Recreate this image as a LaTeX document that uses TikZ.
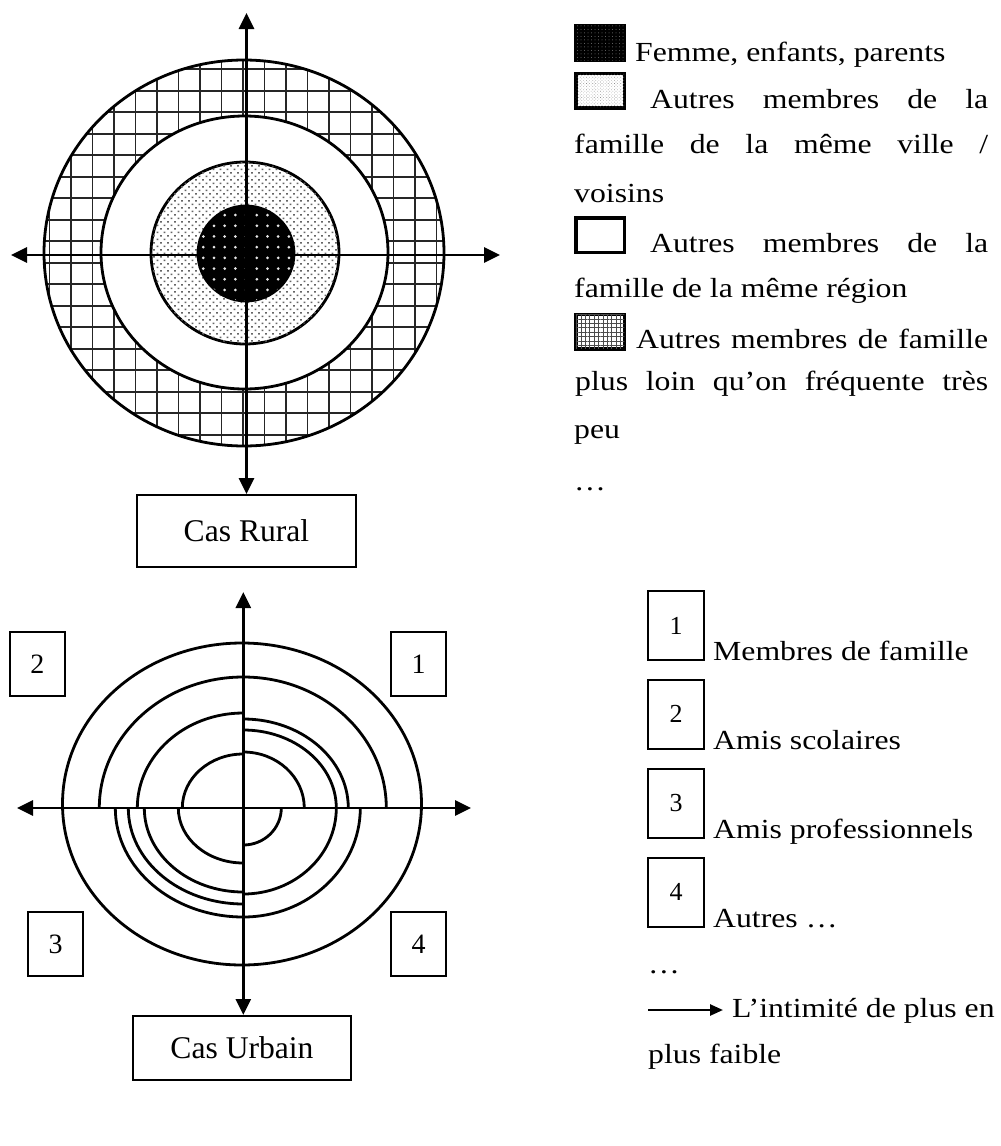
\documentclass[tikz,border=0pt]{standalone}
\usepackage{fontspec}
\setmainfont{Liberation Serif}
\newfontfamily\legfont{Liberation Serif}[FakeStretch=1.15]
\usetikzlibrary{arrows.meta,patterns.meta}
\tikzset{
  axisline/.style={line width=2.8pt,{Triangle[length=16pt,width=15pt]}-{Triangle[length=16pt,width=15pt]}},
  ring/.style={line width=2.8pt},
  gridline/.style={line width=1.8pt,black!85},
  casbox/.style={draw,line width=2pt,inner sep=0pt,font=\fontsize{31.6}{36}\selectfont},
  qbox/.style={draw,line width=2pt,minimum width=55pt,minimum height=64pt,inner sep=0pt,font=\fontsize{28}{30}\selectfont},
  leg/.style={anchor=base west,inner sep=0pt,font=\legfont\fontsize{27.6}{30}\selectfont},
  lbox/.style={draw,line width=2pt,minimum width=56pt,minimum height=69pt,inner sep=0pt,font=\fontsize{26}{28}\selectfont},
  icon/.style={draw,line width=3.5pt,minimum width=48.5pt,minimum height=34.5pt,inner sep=0pt},
  qarc/.style={line width=2.8pt},
}
\begin{document}
\begin{tikzpicture}[x=1pt,y=1pt]
\useasboundingbox (0,0) rectangle (1001,-1146);

% ---------------- Cas Rural ----------------
\begin{scope}
  \fill[white] (244,-253) ellipse [x radius=200, y radius=193];
  \clip (244,-253) ellipse [x radius=200, y radius=193];
  \foreach \i in {0,...,18} \draw[gridline] ({49.5+21.5*\i},-40) -- ({49.5+21.5*\i},-470);
  \foreach \i in {0,...,17} \draw[gridline] (30,{-69.3-21.5*\i}) -- (470,{-69.3-21.5*\i});
\end{scope}
\draw[ring] (244,-253) ellipse [x radius=200, y radius=193];
\filldraw[ring,fill=white] (244.5,-252.5) ellipse [x radius=143.5, y radius=136.5];
\filldraw[ring,fill=white,postaction={pattern={Dots[distance=4.95pt,radius=1.1pt,angle=45]},pattern color=black!60}]
  (245,-253) ellipse [x radius=94, y radius=91];
\filldraw[ring,fill=black,postaction={pattern={Dots[distance=10.7pt,radius=1.5pt]},pattern color=black!10}]
  (246,-253.5) ellipse [x radius=48, y radius=47.5];

\node[casbox,minimum width=219pt,minimum height=72pt] (rural) at (246.5,-531) {Cas Rural};
\coordinate (rT) at (246.5,-13);
\coordinate (rL) at (11,-255);
\coordinate (rR) at (500,-255);
\draw[axisline] (rT) -- (rT |- rural.north);
\draw[axisline] (rL) -- (rR);

% ---------------- Cas Urbain ----------------
\coordinate (uO) at (243.3,-808);
\draw[qarc] (242,-804) ellipse [x radius=179.5, y radius=161];
% quadrant 2 (upper left)
\foreach \rx/\ry in {144/131,106/95,61/54}
  \draw[qarc] ([shift={(0,\ry)}]uO) arc [start angle=90,end angle=180,x radius=\rx,y radius=\ry];
% quadrant 1 (upper right)
\foreach \rx/\ry in {143/131,105/89,93/78,61/56}
  \draw[qarc] ([shift={(\rx,0)}]uO) arc [start angle=0,end angle=90,x radius=\rx,y radius=\ry];
% quadrant 3 (lower left)
\foreach \rx/\ry in {128/109,115/96,99/84,65/55}
  \draw[qarc] ([shift={(-\rx,0)}]uO) arc [start angle=180,end angle=270,x radius=\rx,y radius=\ry];
% quadrant 4 (lower right)
\foreach \rx/\ry in {117/109,93/86,38/37}
  \draw[qarc] ([shift={(0,-\ry)}]uO) arc [start angle=270,end angle=360,x radius=\rx,y radius=\ry];

\node[casbox,minimum width=218pt,minimum height=64pt] (urbain) at (242,-1048) {Cas Urbain};
\coordinate (uT) at (243.3,-592);
\coordinate (uL) at (17,-808);
\coordinate (uR) at (471,-808);
\draw[axisline] (uT) -- (uT |- urbain.north);
\draw[axisline] (uL) -- (uR);

\node[qbox] (q1) at (418.5,-664) {1};
\node[qbox] (q2) at (37.5,-664) {2};
\node[qbox] (q3) at (55.5,-944) {3};
\node[qbox] (q4) at (418.5,-944) {4};

% ---------------- Legend (rural) ----------------
\node[icon,fill=black,postaction={pattern={Dots[distance=3.5pt,radius=0.5pt]},pattern color=black!55}] (i1) at (600,-43) {};
\node[icon,fill=white,postaction={pattern={Dots[distance=2.2pt,radius=0.45pt,angle=45]},pattern color=black!45}] (i2) at (600,-90.5) {};
\node[icon,fill=white] (i3) at (600,-235) {};
\node[icon,fill=white,postaction={pattern={Hatch[distance=4.4pt,angle=0,line width=0.5pt]},pattern color=black!70}] (i4) at (600,-331.5) {};

\node[leg] (l1) at (635,-61) {Femme, enfants, parents};
\node[leg] (l2) at (650,-108) {\hbox to 338pt{Autres\hfill membres\hfill de\hfill la}};
\node[leg] (l3) at (574,-153) {\hbox to 414pt{famille\hfill de\hfill la\hfill même\hfill ville\hfill /}};
\node[leg] (l4) at (574,-202) {voisins};
\node[leg] (l5) at (650,-252) {\hbox to 338pt{Autres\hfill membres\hfill de\hfill la}};
\node[leg] (l6) at (574,-297) {famille de la même région};
\node[leg] (l7) at (636,-348) {\hbox to 352pt{Autres\hfill membres\hfill de\hfill famille}};
\node[leg] (l8) at (575,-390) {\hbox to 413pt{plus\hfill loin\hfill qu’on\hfill fréquente\hfill très}};
\node[leg] (l9) at (574,-438) {peu};
\node[leg] (l10) at (574,-490) {…};

% ---------------- Legend (urbain) ----------------
\node[lbox] (k1) at (676,-625.5) {1};
\node[lbox] (k2) at (676,-714) {2};
\node[lbox] (k3) at (676,-803) {3};
\node[lbox] (k4) at (676,-892) {4};
\node[leg] (m1) at (713,-660) {Membres de famille};
\node[leg] (m2) at (713,-749) {Amis scolaires};
\node[leg] (m3) at (713,-838) {Amis professionnels};
\node[leg] (m4) at (713,-927) {Autres …};
\node[leg] (m5) at (648,-973) {…};
\node[leg] (m6) at (732,-1017) {L’intimité de plus en};
\node[leg] (m7) at (648,-1063) {plus faible};
\coordinate (a0) at (648,-1010);
\coordinate (a1) at (723,-1010);
\draw[line width=2.5pt,-{Triangle[length=13pt,width=11pt]}] (a0) -- (a1);
\end{tikzpicture}
\end{document}
